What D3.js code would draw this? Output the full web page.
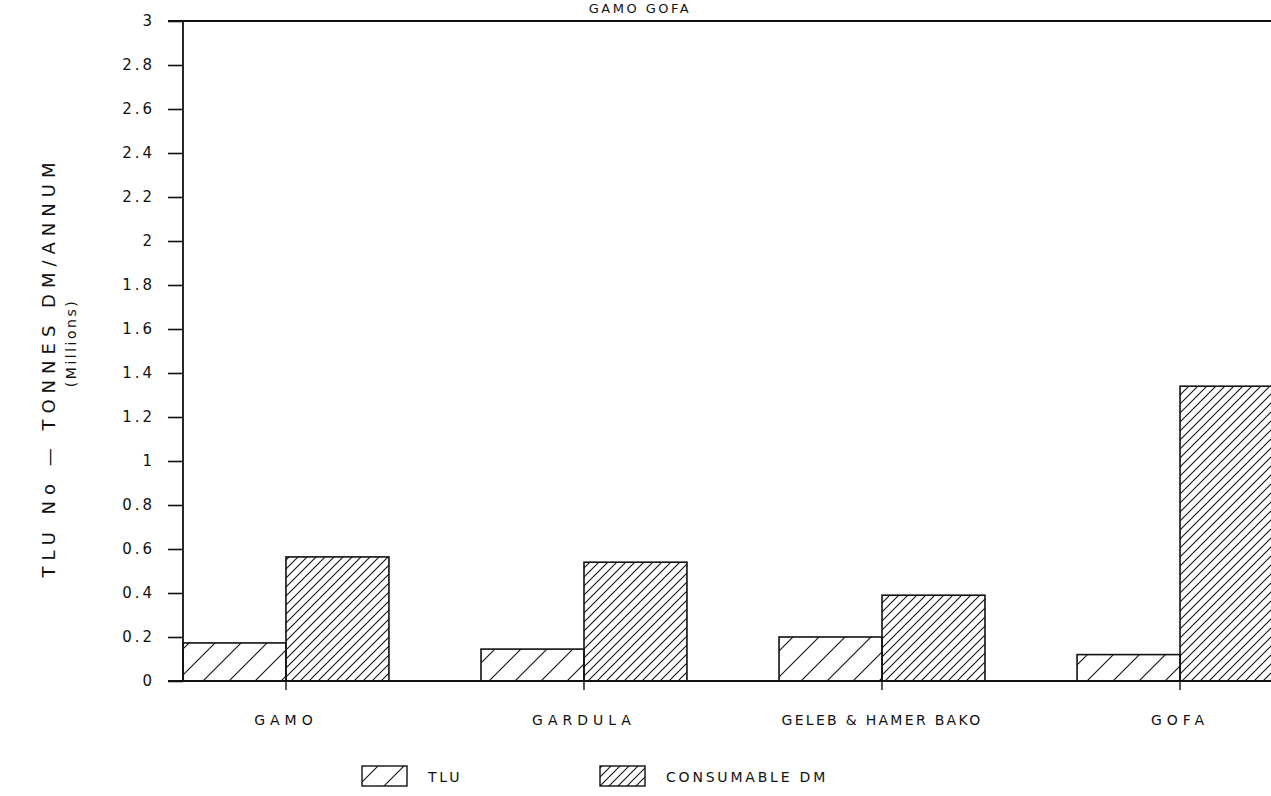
<!DOCTYPE html>
<html>
<head>
<meta charset="utf-8">
<script src="https://cdn.jsdelivr.net/npm/d3@7"></script>
<style>
  html, body { margin: 0; padding: 0; background: #fff; }
  svg { display: block; }
  text { font-family: "DejaVu Sans", sans-serif; fill: #111; }
</style>
</head>
<body>
<svg id="chart" width="1271" height="796"></svg>
<script>
// Livestock units vs consumable dry matter, Gamo Gofa awrajas (millions)
const title = "GAMO GOFA";
const categories = ["GAMO", "GARDULA", "GELEB & HAMER BAKO", "GOFA"];
const seriesNames = ["TLU", "CONSUMABLE DM"];
const tluValues = [0.173, 0.145, 0.2, 0.12];
const dmValues = [0.564, 0.54, 0.39, 1.34];
const yTicks = [0, 0.2, 0.4, 0.6, 0.8, 1, 1.2, 1.4, 1.6, 1.8, 2, 2.2, 2.4, 2.6, 2.8, 3];
const yTitle = "TLU No \u2014 TONNES DM/ANNUM";
const yUnits = "(Millions)";

const svg = d3.select("#chart");
const plotLeft = 183, plotBase = 681, plotTop = 21;

const y = d3.scaleLinear().domain([0, 3]).range([plotBase, plotTop]);
const x = d3.scaleBand().domain(categories).range([plotLeft, 1283])
  .paddingInner(0.309).paddingOuter(0);
const xs = d3.scaleBand().domain(seriesNames).range([0, x.bandwidth()]);

// hatch fills: sparse for TLU, dense for consumable DM
const defs = svg.append("defs");
function hatch(id, s) {
  const p = defs.append("pattern").attr("id", id)
    .attr("patternUnits", "userSpaceOnUse").attr("width", s).attr("height", s);
  p.append("path")
    .attr("d", `M0,${s} L${s},0 M${-s / 2},${s / 2} L${s / 2},${-s / 2} M${s / 2},${s * 1.5} L${s * 1.5},${s / 2}`)
    .attr("stroke", "#111").attr("stroke-width", 1.1).attr("fill", "none");
}
hatch("hTLU", 26);
hatch("hDM", 9);
const fills = { "TLU": "url(#hTLU)", "CONSUMABLE DM": "url(#hDM)" };

// title
svg.append("text").attr("x", 640).attr("y", 13).attr("text-anchor", "middle")
  .style("font-size", "13px").style("letter-spacing", "2.5px").text(title);

// bars
const rows = categories.map((c, i) => ({ cat: c, vals: [
  { s: "TLU", v: tluValues[i] }, { s: "CONSUMABLE DM", v: dmValues[i] }] }));
const g = svg.append("g");
rows.forEach(r => {
  g.selectAll(null).data(r.vals).enter().append("rect")
    .attr("x", d => x(r.cat) + xs(d.s))
    .attr("y", d => y(d.v))
    .attr("width", xs.bandwidth())
    .attr("height", d => plotBase - y(d.v))
    .attr("fill", d => fills[d.s])
    .attr("stroke", "#111").attr("stroke-width", 1.6);
});

// y axis
const yAxis = d3.axisLeft(y).tickValues(yTicks).tickSize(15).tickPadding(13)
  .tickFormat(d => d3.format("~g")(d));
const ya = svg.append("g").attr("transform", `translate(${plotLeft},0)`).call(yAxis);
ya.select(".domain").remove();
ya.selectAll(".tick line").attr("stroke", "#111").attr("stroke-width", 1.6);
ya.selectAll(".tick text").style("font-size", "15px").style("letter-spacing", "3px")
  .style("font-family", "'DejaVu Sans', sans-serif").attr("fill", "#111");
svg.append("line").attr("x1", plotLeft).attr("x2", plotLeft).attr("y1", y(3)).attr("y2", plotBase)
  .attr("stroke", "#111").attr("stroke-width", 1.8);

// frame top and baseline
svg.append("line").attr("x1", plotLeft - 15).attr("x2", 1271).attr("y1", y(3)).attr("y2", y(3))
  .attr("stroke", "#111").attr("stroke-width", 2);
svg.append("line").attr("x1", plotLeft - 15).attr("x2", 1271).attr("y1", plotBase).attr("y2", plotBase)
  .attr("stroke", "#111").attr("stroke-width", 2);

// x axis ticks and labels
const xa = svg.append("g").attr("transform", `translate(0,${plotBase})`);
xa.selectAll("line").data(categories).enter().append("line")
  .attr("x1", d => x(d) + x.bandwidth() / 2).attr("x2", d => x(d) + x.bandwidth() / 2)
  .attr("y1", 0).attr("y2", 9).attr("stroke", "#111").attr("stroke-width", 1.4);
xa.selectAll("text").data(categories).enter().append("text")
  .attr("x", d => x(d) + x.bandwidth() / 2).attr("y", 44)
  .attr("text-anchor", "middle")
  .style("font-size", "14px").style("letter-spacing", d => d.length > 10 ? "2.3px" : "5px")
  .text(d => d);

// y axis title
svg.append("text").attr("transform", "translate(55,367) rotate(-90)")
  .attr("text-anchor", "middle").style("font-size", "18px").style("letter-spacing", "6px")
  .text(yTitle);
svg.append("text").attr("transform", "translate(76,343) rotate(-90)")
  .attr("text-anchor", "middle").style("font-size", "14px").style("letter-spacing", "2.5px")
  .text(yUnits);

// legend
const legX = [362, 600];
const leg = svg.append("g");
seriesNames.forEach((s, i) => {
  leg.append("rect").attr("x", legX[i]).attr("y", 766).attr("width", 45).attr("height", 20)
    .attr("fill", fills[s]).attr("stroke", "#111").attr("stroke-width", 1.4);
  leg.append("text").attr("x", legX[i] + 66).attr("y", 782)
    .style("font-size", "14px").style("letter-spacing", "2.8px").text(s);
});
</script>
</body>
</html>
